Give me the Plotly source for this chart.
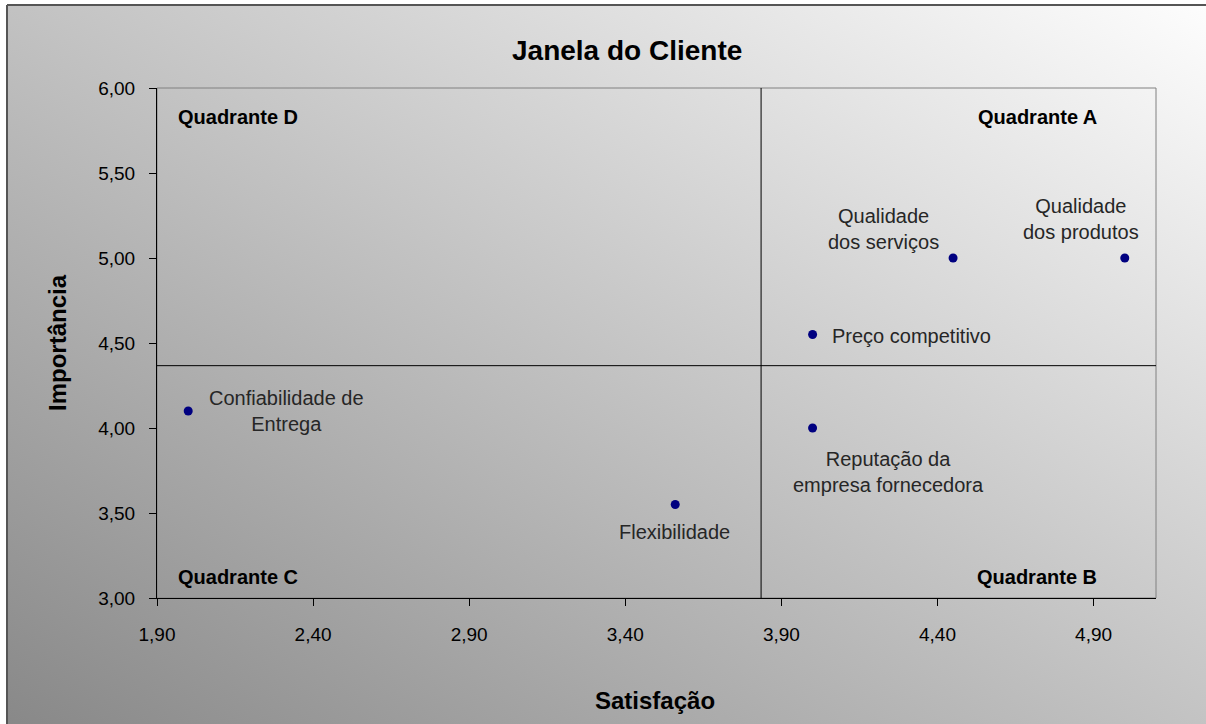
import base64
import numpy as np
import plotly.graph_objects as go

# Atributos avaliados pelos clientes
atributos = [
    "Confiabilidade de<br>Entrega",
    "Flexibilidade",
    "Preço competitivo",
    "Reputação da<br>empresa fornecedora",
    "Qualidade<br>dos serviços",
    "Qualidade<br>dos produtos",
]
satisfacao = [2.00, 3.56, 4.00, 4.00, 4.45, 5.00]
importancia = [4.10, 3.55, 4.55, 4.00, 5.00, 5.00]

quadrantes = ["Quadrante D", "Quadrante A", "Quadrante C", "Quadrante B"]

# Posicao dos rotulos em relacao a cada ponto (xanchor, deslocamento x, deslocamento y) em pixels
rotulo_pos = [
    ("left", 19, 0),
    ("center", -1, -27),
    ("left", 17, -1),
    ("center", 76, -44),
    ("center", -70, 29),
    ("center", -44, 39),
]

W, H = 1206, 724
L, R, T, B = 157, 1156, 88, 598  # area de plotagem em pixels
PW, PH = R - L, B - T


def px(x):
    return (x - L) / PW


def py(y):
    return (B - y) / PH


FONT = "Liberation Sans, Arial, sans-serif"

# Fundo em degrade diagonal (escuro embaixo a esquerda, claro em cima a direita)
GW, GH = 1240, 760
svg = (
    '<svg xmlns="http://www.w3.org/2000/svg" width="%d" height="%d" '
    'viewBox="0 0 %d %d" preserveAspectRatio="none">'
    '<defs><linearGradient id="g" x1="0" y1="1" x2="1" y2="0">'
    '<stop offset="0" stop-color="#858585"/>'
    '<stop offset="1" stop-color="#ffffff"/>'
    '</linearGradient></defs>'
    '<rect x="0" y="0" width="%d" height="%d" fill="url(#g)"/></svg>'
) % (GW, GH, GW, GH, GW, GH)
fundo = "data:image/svg+xml;base64," + base64.b64encode(svg.encode()).decode()

xmin, xmax = 1.90, 5.10
ymin, ymax = 3.00, 6.00
media_x = float(np.mean(satisfacao))
media_y = float(np.mean(importancia))

fig = go.Figure()

# Linhas que dividem os quadrantes (medias)
fig.add_trace(go.Scatter(x=[media_x, media_x], y=[ymin, ymax], mode="lines",
                         line=dict(color="black", width=1), hoverinfo="skip",
                         showlegend=False, cliponaxis=False))
fig.add_trace(go.Scatter(x=[xmin, xmax], y=[media_y, media_y], mode="lines",
                         line=dict(color="black", width=1), hoverinfo="skip",
                         showlegend=False, cliponaxis=False))

fig.add_trace(go.Scatter(
    x=satisfacao, y=importancia, mode="markers",
    marker=dict(color="#000080", size=9),
    text=atributos, showlegend=False,
))

annotations = []
for nome, sx, iy, (anc, dx, dy) in zip(atributos, satisfacao, importancia, rotulo_pos):
    annotations.append(dict(
        x=sx, y=iy, xref="x", yref="y", text=nome, showarrow=False,
        xanchor=anc, yanchor="middle", align="center", xshift=dx, yshift=dy,
        font=dict(family=FONT, size=20, color="#262626"),
    ))

# Rotulos dos quadrantes
quad_pos = [(176, 117, "left"), (1099, 117, "right"), (176, 577, "left"), (1099, 577, "right")]
for q, (qx, qy, anc) in zip(quadrantes, quad_pos):
    annotations.append(dict(
        x=px(qx), y=py(qy), xref="paper", yref="paper", text="<b>%s</b>" % q,
        showarrow=False, xanchor=anc, yanchor="middle",
        font=dict(family=FONT, size=20, color="black"),
    ))

# Titulo e titulos dos eixos
annotations.append(dict(x=px(627), y=py(50), xref="paper", yref="paper",
                        text="<b>Janela do Cliente</b>", showarrow=False,
                        xanchor="center", yanchor="middle",
                        font=dict(family=FONT, size=28, color="black")))
annotations.append(dict(x=px(655), y=py(700), xref="paper", yref="paper",
                        text="<b>Satisfação</b>", showarrow=False,
                        xanchor="center", yanchor="middle",
                        font=dict(family=FONT, size=24, color="black")))
annotations.append(dict(x=px(57), y=py(343), xref="paper", yref="paper",
                        text="<b>Importância</b>", showarrow=False, textangle=-90,
                        xanchor="center", yanchor="middle",
                        font=dict(family=FONT, size=24, color="black")))

fig.update_layout(
    width=W, height=H,
    margin=dict(l=L, r=W - R, t=T, b=H - B, pad=0),
    paper_bgcolor="white",
    plot_bgcolor="rgba(0,0,0,0)",
    separators=",.",
    font=dict(family=FONT, size=19, color="black"),
    annotations=annotations,
    images=[dict(
        source=fundo, xref="paper", yref="paper",
        x=px(7), y=py(5), sizex=GW / PW, sizey=GH / PH,
        xanchor="left", yanchor="top", sizing="stretch", layer="below",
    )],
    shapes=[
        # moldura do grafico (lados esquerdo e superior)
        dict(type="line", xref="paper", yref="paper",
             x0=px(7), y0=py(5), x1=px(7), y1=py(H + 10),
             line=dict(color="#555555", width=2), layer="above"),
        dict(type="line", xref="paper", yref="paper",
             x0=px(7), y0=py(5), x1=px(W + 10), y1=py(5),
             line=dict(color="#555555", width=2), layer="above"),
        # borda da area de plotagem
        dict(type="rect", xref="paper", yref="paper", x0=0, y0=0, x1=1, y1=1,
             line=dict(color="#808080", width=1), layer="below"),
    ],
    xaxis=dict(
        range=[xmin, xmax], tick0=1.9, dtick=0.5, tickformat=".2f",
        showgrid=False, zeroline=False, showline=True, linecolor="black", linewidth=1,
        ticks="outside", ticklen=7, tickcolor="black", ticklabelstandoff=12,
        tickfont=dict(family=FONT, size=19, color="black"),
    ),
    yaxis=dict(
        range=[ymin, ymax], tick0=3.0, dtick=0.5, tickformat=".2f",
        showgrid=False, zeroline=False, showline=True, linecolor="black", linewidth=1,
        ticks="outside", ticklen=7, tickcolor="black", ticklabelstandoff=10,
        tickfont=dict(family=FONT, size=19, color="black"),
    ),
)

fig.write_html("out.html", config={"displayModeBar": False})
